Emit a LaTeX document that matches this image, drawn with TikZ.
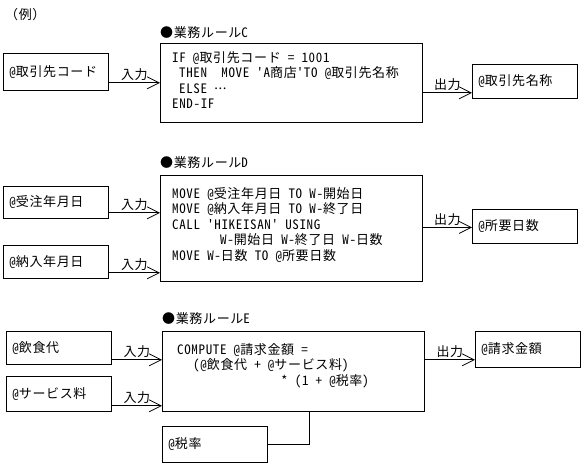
\documentclass[tikz,border=0pt]{standalone}
\usepackage{fontspec}
\usepackage{tikz}
\usetikzlibrary{arrows.meta, positioning, calc}
\newfontfamily\jpfont{Noto Sans CJK JP}[Ligatures=TeXOff, LetterSpace=5]
\newfontfamily\hwfont{Noto Sans CJK JP}[Ligatures=TeXOff, LetterSpace=5, RawFeature=+hwid]
\newcommand{\jpsize}{\jpfont\fontsize{13pt}{15.5pt}\selectfont}
\newcommand{\hw}[1]{{\hwfont #1}}% half-width latin run
\newcommand{\at}{\hw{@}}
\newcommand{\middots}{\raisebox{3.5pt}{...}}
\tikzset{
  databox/.style={draw=black, line width=0.8pt, anchor=north west,
    inner xsep=6pt, inner ysep=0pt, text width=93pt, align=left, minimum height=#1},
  rulebox/.style={draw=black, line width=0.8pt, anchor=north west,
    inner sep=0pt, minimum width=262pt, minimum height=#1},
  code/.style={anchor=north west, inner sep=0pt, align=left},
  heading/.style={anchor=south west, inner sep=0pt},
  flow/.style={-{Straight Barb[length=12pt, width=12pt]}, line width=0.8pt},
  flowlabel/.style={above, inner sep=1.5pt}
}

\begin{document}
\begin{tikzpicture}[x=1pt, y=-1pt, font=\jpsize]
  \useasboundingbox (0,0) rectangle (584,465);
  \node[anchor=west, inner sep=0pt] (title) at (5,15) {（例）};
  % ── 業務ルールC
  \node[databox=37pt] (custCode) at (3,53) {\at 取引先コード};
  \node[rulebox=79pt] (ruleC) at (160,43) {};
  \node[heading] (headC) at ([yshift=4pt]ruleC.north west) {●業務ルール\hw{C}};
  \node[code] (codeC) at ([xshift=12pt, yshift=-8pt]ruleC.north west) {%
    \hw{IF @}取引先コード\hw{ = 1001}\\
    \hspace*{7pt}\hw{THEN\ \ MOVE 'A}商店\hw{'TO @}取引先名称\\
    \hspace*{7pt}\hw{ELSE }\middots\\
    \hw{END-IF}};
  \node[databox=34pt] (custName) at (472,64) {\at 取引先名称};
  \coordinate (inC) at ([yshift=8pt]custCode.south east);
  \coordinate (outC) at ([yshift=6pt]custName.south west);
  \draw[flow] (inC) -- (inC -| ruleC.west) node[flowlabel, midway] {入力};
  \draw[flow] (outC -| ruleC.east) -- (outC) node[flowlabel, midway] {出力};
  % ── 業務ルールD
  \node[databox=32pt] (orderDate) at (3,186) {\at 受注年月日};
  \node[databox=33pt] (delivDate) at (3,245) {\at 納入年月日};
  \node[rulebox=106pt] (ruleD) at (160,175) {};
  \node[heading] (headD) at ([yshift=6pt]ruleD.north west) {●業務ルール\hw{D}};
  \node[code] (codeD) at ([xshift=12pt, yshift=-12pt]ruleD.north west) {%
    \hw{MOVE @}受注年月日\hw{ TO W-}開始日\\
    \hw{MOVE @}納入年月日\hw{ TO W-}終了日\\
    \hw{CALL 'HIKEISAN' USING}\\
    \hspace*{48pt}\hw{W-}開始日\hw{ W-}終了日\hw{ W-}日数\\
    \hw{MOVE W-}日数\hw{ TO @}所要日数};
  \node[databox=34pt] (reqDays) at (472,209) {\at 所要日数};
  \coordinate (inD1) at ([yshift=6pt]orderDate.south east);
  \coordinate (inD2) at ([yshift=6pt]delivDate.south east);
  \coordinate (outD) at ([yshift=-1pt]reqDays.west);
  \draw[flow] (inD1) -- (inD1 -| ruleD.west) node[flowlabel, midway] {入力};
  \draw[flow] (inD2) -- (inD2 -| ruleD.west) node[flowlabel, midway] {入力};
  \draw[flow] (outD -| ruleD.east) -- (outD) node[flowlabel, midway] {出力};
  % ── 業務ルールE
  \node[databox=33pt] (foodCost) at (6,331) {\at 飲食代};
  \node[databox=35pt] (svcCharge) at (6,376) {\at サービス料};
  \node[rulebox=80pt] (ruleE) at (162,331) {};
  \node[heading] (headE) at ([yshift=6pt]ruleE.north west) {●業務ルール\hw{E}};
  \node[code] (codeE) at ([xshift=15pt, yshift=-12pt]ruleE.north west) {%
    \hw{COMPUTE @}請求金額\hw{ =}\\
    \hspace*{16pt}\hw{(@}飲食代\hw{ + @}サービス料\hw{)}\\
    \hspace*{104pt}\hw{* (1 + @}税率\hw{)}};
  \node[databox=36pt] (taxRate) at (162,426) {\at 税率};
  \node[databox=36pt] (billAmt) at (475,331) {\at 請求金額};
  \coordinate (inE1) at ([yshift=5pt]foodCost.south east);
  \coordinate (inE2) at ([yshift=6pt]svcCharge.south east);
  \coordinate (outE) at ([yshift=8pt]billAmt.south west);
  \draw[flow] (inE1) -- (inE1 -| ruleE.west) node[flowlabel, midway] {入力};
  \draw[flow] (inE2) -- (inE2 -| ruleE.west) node[flowlabel, midway] {入力};
  \draw[flow] (outE -| ruleE.east) -- (outE) node[flowlabel, midway] {出力};
  \draw[line width=0.8pt] (taxRate.east) -| ([xshift=16pt]ruleE.south);
\end{tikzpicture}
\end{document}
